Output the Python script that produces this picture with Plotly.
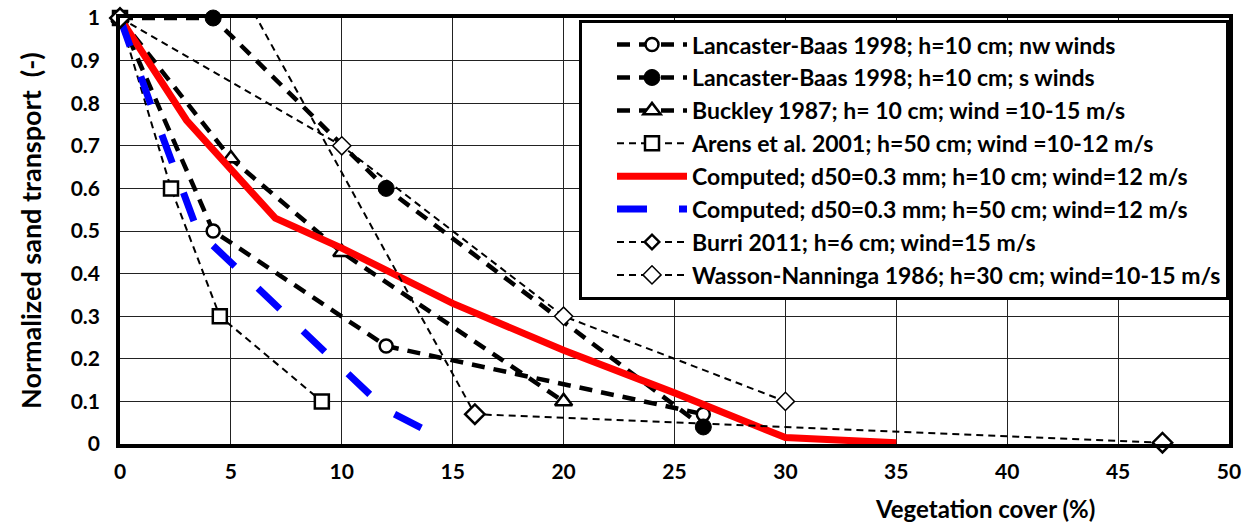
import plotly.graph_objects as go

# Vegetation cover (%) vs normalized sand transport (-)
lb_nw_x = [0, 4.2, 12.0, 26.3]
lb_nw_y = [1.0, 0.50, 0.23, 0.07]

lb_s_x = [0, 4.2, 12.0, 26.3]
lb_s_y = [1.0, 1.0, 0.60, 0.04]

buckley_x = [0, 5, 10, 20]
buckley_y = [1.0, 0.67, 0.45, 0.10]

arens_x = [0, 2.3, 4.5, 9.1]
arens_y = [1.0, 0.60, 0.30, 0.10]

comp10_x = [0, 3, 7, 10, 15, 20, 25, 30, 35]
comp10_y = [1.0, 0.76, 0.53, 0.46, 0.33, 0.22, 0.12, 0.015, 0.003]

comp50_x = [0, 1.5, 3.5, 12, 14]
comp50_y = [1.0, 0.78, 0.50, 0.08, 0.027]

burri_x = [0, 5, 16, 47]
burri_y = [1.0, 1.11, 0.07, 0.003]

wasson_x = [0, 10, 20, 30]
wasson_y = [1.0, 0.70, 0.30, 0.10]

names = [
    "Lancaster-Baas 1998; h=10 cm; nw winds",
    "Lancaster-Baas 1998; h=10 cm; s winds",
    "Buckley 1987; h= 10 cm; wind =10-15 m/s",
    "Arens et al. 2001; h=50 cm; wind =10-12 m/s",
    "Computed; d50=0.3 mm; h=10 cm; wind=12 m/s",
    "Computed; d50=0.3 mm; h=50 cm; wind=12 m/s",
    "Burri 2011; h=6 cm; wind=15 m/s",
    "Wasson-Nanninga 1986; h=30 cm; wind=10-15 m/s",
]

FONT = "Lato"
thick_dash = "13px,9px"
thin_dash = "7px,5px"

fig = go.Figure()

def add(x, y, name, line, marker=None, mode="lines+markers"):
    fig.add_trace(go.Scatter(
        x=x, y=y, name=name, mode=mode, line=line,
        marker=marker or {}, cliponaxis=False, legendgroup=name,
    ))

add(lb_nw_x, lb_nw_y, names[0],
    dict(color="black", width=4.5, dash=thick_dash),
    dict(symbol="circle", size=13, color="white", line=dict(color="black", width=2.5)))
add(lb_s_x, lb_s_y, names[1],
    dict(color="black", width=4.5, dash=thick_dash),
    dict(symbol="circle", size=16, color="black", line=dict(color="black", width=1)))
add(buckley_x, buckley_y, names[2],
    dict(color="black", width=4.5, dash=thick_dash),
    dict(symbol="triangle-up", size=15, color="white", line=dict(color="black", width=2.5)))
add(arens_x, arens_y, names[3],
    dict(color="black", width=2, dash=thin_dash),
    dict(symbol="square", size=14, color="white", line=dict(color="black", width=2.5)))
add(comp10_x, comp10_y, names[4],
    dict(color="#ff0000", width=7), mode="lines")
add(comp50_x, comp50_y, names[5],
    dict(color="#0000ff", width=7, dash="30px,32px"), mode="lines")
# second Burri point lies above the axis range; its marker is hidden
add(burri_x, burri_y, names[6],
    dict(color="black", width=2, dash=thin_dash),
    dict(symbol="diamond", size=[15, 0, 15, 15], opacity=1, color="white",
         line=dict(color="black", width=2.5)))
add(wasson_x, wasson_y, names[7],
    dict(color="black", width=2, dash=thin_dash),
    dict(symbol="diamond", size=14, color="white", line=dict(color="black", width=1.5)))

axis_common = dict(
    showgrid=True, gridcolor="#222222", gridwidth=1,
    showline=True, linecolor="black", linewidth=3.5, mirror=True,
    zeroline=False, ticks="", automargin=False,
    tickfont=dict(family=FONT, size=21, color="black", weight="bold"),
)

fig.update_xaxes(range=[0, 50], dtick=5, tick0=0, ticklabelstandoff=6, **axis_common)
fig.update_yaxes(range=[0, 1], dtick=0.1, tick0=0, ticklabelstandoff=12, **axis_common)

fig.add_annotation(
    text="Vegetation cover (%)", xref="paper", yref="paper",
    x=(985 - 120) / 1109, y=-(508 - 444) / 426, xanchor="center", yanchor="middle",
    showarrow=False, font=dict(family=FONT, size=24, color="black", weight="bold"),
)
fig.add_annotation(
    text="Normalized sand transport\u00a0\u00a0(-)", xref="paper", yref="paper",
    x=-(120 - 30) / 1109, y=0.5, xanchor="center", yanchor="middle", textangle=-90,
    showarrow=False, font=dict(family=FONT, size=27, color="black", weight="bold"),
)

fig.update_layout(
    width=1251, height=523,
    margin=dict(l=120, r=22, t=18, b=79, autoexpand=False),
    paper_bgcolor="white", plot_bgcolor="white",
    showlegend=True,
    legend=dict(
        x=1.0, xanchor="right", y=0.995, yanchor="top",
        bgcolor="white", bordercolor="black", borderwidth=3,
        font=dict(family=FONT, size=23, color="black", weight="bold"),
        itemwidth=70, tracegroupgap=6, traceorder="normal", indentation=30,
    ),
)

fig.write_html("out.html")
